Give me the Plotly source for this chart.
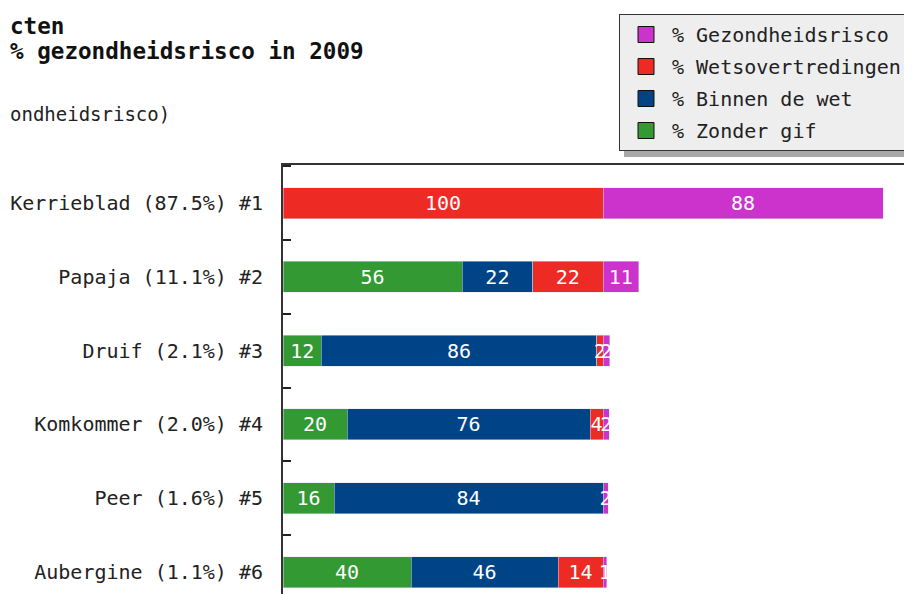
import plotly.graph_objects as go

# ---- data ----
products = ["Kerrieblad", "Papaja", "Druif", "Komkommer", "Peer", "Aubergine"]
gezondheidsrisico = [87.5, 11.1, 2.1, 2.0, 1.6, 1.1]
wetsovertredingen = [100, 22, 2, 4, 0, 14]
binnen_de_wet = [0, 22, 86, 76, 84, 46]
zonder_gif = [0, 56, 12, 20, 16, 40]

series_names = ["% Zonder gif", "% Binnen de wet", "% Wetsovertredingen", "% Gezondheidsrisco"]
series_values = [zonder_gif, binnen_de_wet, wetsovertredingen, gezondheidsrisico]
series_colors = ["#339933", "#004488", "#ee2a24", "#cc33cc"]

title_parts = ["cten", "% gezondheidsrisco in 2009", "ondheidsrisco)"]

labels = [f"{p} ({g:.1f}%) #{i+1}" for i, (p, g) in enumerate(zip(products, gezondheidsrisico))]

FONT = "DejaVu Sans Mono"
OFF = 8  # page body margin
W, H = 912 - OFF, 594 - OFF
ML, MT = 283 - OFF, 165 - OFF
PW, PH = W - ML, H - MT

def px_x(px):
    return (px - OFF - ML) / PW

def px_y(py):
    return 1 + (MT - (py - OFF)) / PH

fig = go.Figure()
for name, vals, col in zip(series_names, series_values, series_colors):
    fig.add_trace(go.Bar(
        y=labels, x=vals, orientation="h", name=name,
        marker=dict(color=col, line=dict(color="rgba(220,230,245,0.8)", width=0.6)),
        text=[f"{v:.0f}" if v > 0 else "" for v in vals],
        textposition="inside", insidetextanchor="middle", textangle=0,
        textfont=dict(family=FONT, size=20, color="white"),
        showlegend=False, hoverinfo="skip",
    ))

# legend entries (square swatches with dark outline), top item = last series
for name, col in reversed(list(zip(series_names, series_colors))):
    fig.add_trace(go.Scatter(
        x=[None], y=[None], mode="markers", name=name + "\u00a0", legendgroup=name,
        marker=dict(symbol="square", size=16, color=col, line=dict(color="#111", width=1)),
    ))

fig.update_layout(
    width=W, height=H,
    margin=dict(l=ML, r=0, t=MT, b=0, autoexpand=False),
    barmode="stack", bargap=0.58,
    plot_bgcolor="white", paper_bgcolor="white",
    font=dict(family=FONT, size=20, color="#222"),
    uniformtext=dict(mode="show", minsize=20),
    showlegend=True,
    legend=dict(
        x=px_x(619), y=px_y(14), xanchor="left", yanchor="top",
        bgcolor="#eeeeee", bordercolor="#333333", borderwidth=1,
        traceorder="grouped", tracegroupgap=3,
        font=dict(family=FONT, size=20, color="#222"),
        itemwidth=42,
    ),
    xaxis=dict(range=[0, PW / 3.2], side="top", showline=True, linecolor="#333", linewidth=2,
               showticklabels=False, ticks="", showgrid=False, zeroline=False),
    yaxis=dict(range=[5.298, -0.515], showline=True, linecolor="#333", linewidth=2,
               ticks="inside", ticklen=8, tickwidth=2, tickcolor="#222", tickson="boundaries",
               ticklabelstandoff=14, showgrid=False, zeroline=False,
               tickfont=dict(family=FONT, size=20, color="#222")),
    shapes=[dict(type="rect", xref="paper", yref="paper",
                 x0=px_x(624), x1=px_x(960), y0=px_y(157), y1=px_y(19),
                 fillcolor="#a8a8a8", line=dict(width=0), layer="above")],
    annotations=[
        dict(text=f"<b>{title_parts[0]}</b>", xref="paper", yref="paper", x=px_x(8), y=px_y(26),
             xanchor="left", yanchor="middle", showarrow=False, font=dict(family=FONT, size=22.6, color="#111")),
        dict(text=f"<b>{title_parts[1]}</b>", xref="paper", yref="paper", x=px_x(8), y=px_y(51),
             xanchor="left", yanchor="middle", showarrow=False, font=dict(family=FONT, size=22.6, color="#111")),
        dict(text=title_parts[2], xref="paper", yref="paper", x=px_x(8), y=px_y(114),
             xanchor="left", yanchor="middle", showarrow=False, font=dict(family=FONT, size=19, color="#222")),
    ],
)

fig.write_html("out.html")
